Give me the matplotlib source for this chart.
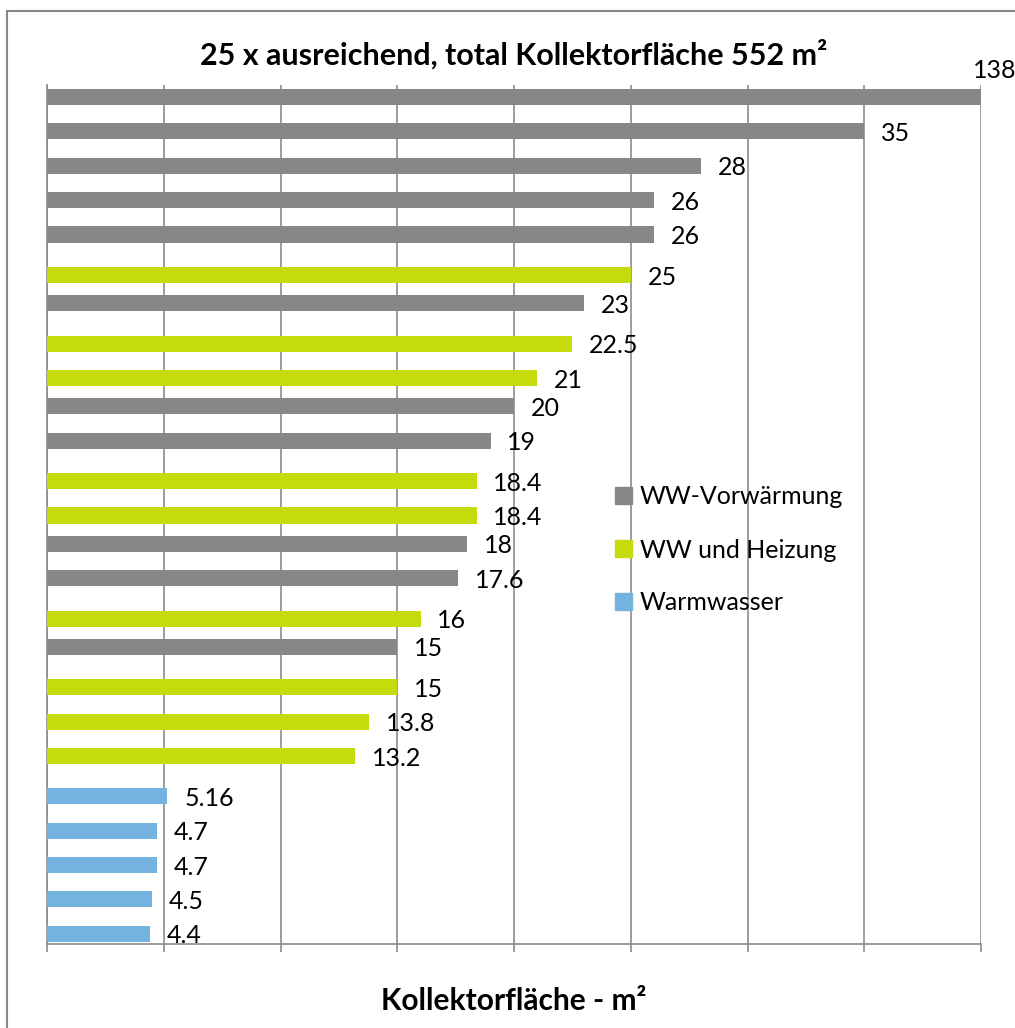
import matplotlib.pyplot as plt
from matplotlib.patches import Patch, Rectangle

# values per row, top to bottom, and which system each belongs to
values = [138, 35, 28, 26, 26, 25, 23, 22.5, 21, 20, 19, 18.4, 18.4, 18, 17.6,
          16, 15, 15, 13.8, 13.2, 5.16, 4.7, 4.7, 4.5, 4.4]
labels = ['138', '35', '28', '26', '26', '25', '23', '22.5', '21', '20', '19',
          '18.4', '18.4', '18', '17.6', '16', '15', '15', '13.8', '13.2',
          '5.16', '4.7', '4.7', '4.5', '4.4']
kinds = ['vw', 'vw', 'vw', 'vw', 'vw', 'wh', 'vw', 'wh', 'wh', 'vw', 'vw',
         'wh', 'wh', 'vw', 'vw', 'wh', 'vw', 'wh', 'wh', 'wh',
         'ww', 'ww', 'ww', 'ww', 'ww']
series_names = {'vw': 'WW-Vorwärmung', 'wh': 'WW und Heizung', 'ww': 'Warmwasser'}
colors = {'vw': '#878787', 'wh': '#c6db0e', 'ww': '#74b3e0'}
offsets = {'vw': -0.15, 'wh': 0.03, 'ww': 0.2}

xmax = 40
grid_c = '#8c8c8c'

plt.rcParams['font.family'] = ['Lato', 'DejaVu Sans']

fig = plt.figure(figsize=(10.15, 10.28), dpi=100)
W, H = 1015, 1028
ax = fig.add_axes([47 / W, 1 - 944 / H, (981 - 47) / W, (944 - 85) / H])

for i, (v, k) in enumerate(zip(values, kinds)):
    ax.barh(i + offsets[k], v, height=0.47, color=colors[k], zorder=3)

for i, (v, k, lab) in enumerate(zip(values, kinds, labels)):
    y = i + offsets[k]
    if v > xmax:
        ax.annotate(lab, (xmax, y), xytext=(-6, 19), textcoords='offset points',
                    ha='left', va='center', fontsize=18, annotation_clip=False)
    else:
        ax.annotate(lab, (v, y), xytext=(12, -1.5), textcoords='offset points',
                    ha='left', va='center', fontsize=18)

ax.set_xlim(0, xmax)
ax.set_ylim(len(values) - 0.5, -0.5)
ax.set_xticks(range(0, xmax + 5, 5))
ax.set_yticks([])
ax.tick_params(axis='x', length=6, width=1.2, color=grid_c, labelbottom=False)
ax.grid(axis='x', color=grid_c, linewidth=1.2, zorder=0)
for s in ['top', 'right']:
    ax.spines[s].set_visible(False)
for s in ['left', 'bottom']:
    ax.spines[s].set_color(grid_c)
    ax.spines[s].set_linewidth(1.2)

ax.set_title('25 x ausreichend, total Kollektorfläche 552 m²', fontsize=22,
             fontweight='bold', pad=15)
ax.set_xlabel('Kollektorfläche - m²', fontsize=21.5, fontweight='bold', labelpad=25)

handles = [Patch(color=colors[k]) for k in ['vw', 'wh', 'ww']]
ax.legend(handles, [series_names[k] for k in ['vw', 'wh', 'ww']],
          loc='upper left', bbox_to_anchor=(592 / W, 1 - 463 / H),
          bbox_transform=fig.transFigure, frameon=False, fontsize=18,
          handlelength=0.7, handleheight=0.65, handletextpad=0.3,
          labelspacing=1.2)

# outer chart border (cropped on the right and bottom)
fig.patches.append(Rectangle((7 / W, -0.1), 1.2, 1.1 - 11 / H,
                             transform=fig.transFigure, fill=False,
                             edgecolor='#868686', linewidth=1.5))

fig.savefig('out.png', dpi=100)
